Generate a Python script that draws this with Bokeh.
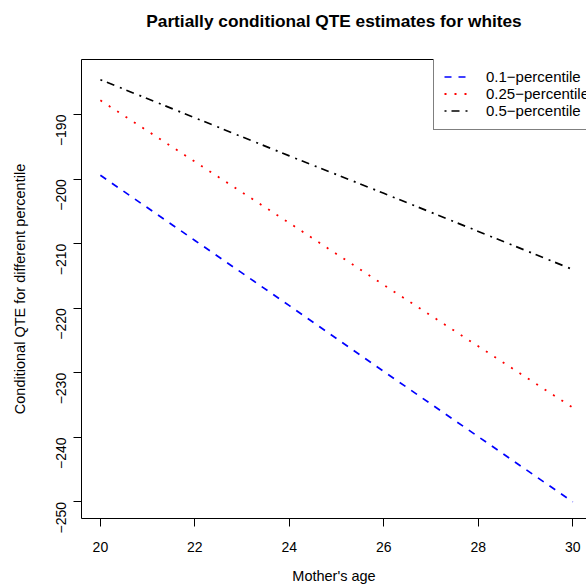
import math
from bokeh.plotting import figure
from bokeh.models import Range1d, LinearAxis, FixedTicker, Legend, LegendItem
from bokeh.embed import file_html
from bokeh.resources import INLINE

# ---- data ----
ages = [20, 22, 24, 26, 28, 30]
qte_p10 = [-199.4, -209.5, -219.6, -229.8, -239.9, -250.0]
qte_p25 = [-187.8, -197.3, -206.8, -216.4, -225.9, -235.4]
qte_p50 = [-184.6, -190.5, -196.4, -202.2, -208.1, -214.0]
series_labels = ["0.1\u2212percentile", "0.25\u2212percentile", "0.5\u2212percentile"]
x_ticks = [20, 22, 24, 26, 28, 30]
y_ticks = [-250, -240, -230, -220, -210, -200, -190]
title_text = "Partially conditional QTE estimates for whites"
x_label = "Mother's age"
y_label = "Conditional QTE for different percentile"

FONT = "Liberation Sans"

p = figure(width=586, height=588, output_backend="svg", toolbar_location=None,
           title=None,
           x_range=Range1d(19.6, 30.29), y_range=Range1d(-252.57, -181.47),
           min_border_left=81, min_border_right=0, min_border_top=59,
           min_border_bottom=70,
           x_axis_location=None, y_axis_location=None)
p.outline_line_color = None
p.background_fill_color = "white"
p.border_fill_color = "white"
p.xgrid.visible = False
p.ygrid.visible = False


def style_axis(ax):
    ax.axis_line_color = "black"
    ax.axis_line_width = 1
    ax.major_tick_line_color = "black"
    ax.major_tick_out = 8
    ax.major_tick_in = 0
    ax.minor_tick_out = 0
    ax.minor_tick_in = 0
    ax.major_label_text_font = FONT
    ax.major_label_text_font_size = "14px"
    ax.major_label_text_color = "black"
    ax.axis_label_text_font = FONT
    ax.axis_label_text_font_size = "14.5px"
    ax.axis_label_text_font_style = "normal"
    ax.axis_label_text_color = "black"


xaxis = LinearAxis(ticker=FixedTicker(ticks=x_ticks), axis_label=x_label)
style_axis(xaxis)
xaxis.major_label_standoff = 15
xaxis.axis_label_standoff = 13
p.add_layout(xaxis, "below")

yaxis = LinearAxis(ticker=FixedTicker(ticks=y_ticks), axis_label=y_label)
style_axis(yaxis)
yaxis.major_label_orientation = math.pi / 2
yaxis.major_label_standoff = 12
yaxis.axis_label_standoff = 21
yaxis.major_label_overrides = {t: str(t).replace("-", "\u2212") for t in y_ticks}
p.add_layout(yaxis, "left")

# top border of the box, carrying the chart title as its label
topaxis = LinearAxis(ticker=FixedTicker(ticks=[]), axis_label=title_text)
topaxis.axis_line_color = "black"
topaxis.major_tick_out = 0
topaxis.major_tick_in = 0
topaxis.minor_tick_out = 0
topaxis.minor_tick_in = 0
topaxis.major_label_text_font_size = "0px"
topaxis.major_label_standoff = 0
topaxis.axis_label_text_font = FONT
topaxis.axis_label_text_font_size = "17.3px"
topaxis.axis_label_text_font_style = "bold"
topaxis.axis_label_text_color = "black"
topaxis.axis_label_standoff = 29
p.add_layout(topaxis, "above")

r1 = p.line(ages, qte_p10, line_color="#0000FF", line_width=1.7, line_dash="7 7")
r2 = p.line(ages, qte_p25, line_color="#FF0000", line_width=1.8, line_dash="2 8")
r3 = p.line(ages, qte_p50, line_color="black", line_width=1.7, line_dash="2 5 8 6")

legend = Legend(items=[LegendItem(label=series_labels[0], renderers=[r1]),
                       LegendItem(label=series_labels[1], renderers=[r2]),
                       LegendItem(label=series_labels[2], renderers=[r3])],
                location=(352, 388), margin=0, padding=10, spacing=0,
                label_height=17, glyph_height=17, glyph_width=28,
                label_standoff=14,
                label_text_font=FONT, label_text_font_size="15px",
                label_text_color="black",
                border_line_color="black", border_line_width=1,
                background_fill_color="white", background_fill_alpha=1.0)
p.add_layout(legend, "center")

open("out.html", "w").write(file_html(p, INLINE))
